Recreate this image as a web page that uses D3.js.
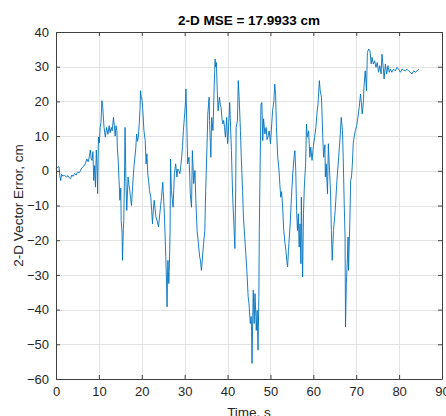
<!DOCTYPE html>
<html>
<head>
<meta charset="utf-8">
<script src="https://d3js.org/d3.v7.min.js"></script>
<style>
  body { margin: 0; background: #fff; }
  svg { display: block; font-family: "Liberation Sans", Arial, sans-serif; }
</style>
</head>
<body>
<div id="chart"></div>
<script>
// time stamps (s)
var timeS = [
  0, 0.3, 0.7, 0.9, 1.1, 1.3, 1.6, 2.0, 2.4, 2.8, 3.1, 3.4, 3.7, 4.0, 4.3, 4.7, 5.0, 5.4, 5.7, 6.0,
  6.4, 6.8, 7.2, 7.5, 7.8, 8.0, 8.2, 8.4, 8.6, 8.8, 9.0, 9.2, 9.4, 9.6, 9.7, 9.9, 10.1, 10.3, 10.5, 10.7,
  10.9, 11.2, 11.5, 11.8, 12.1, 12.4, 12.6, 12.9, 13.1, 13.4, 13.6, 13.8, 14.0, 14.2, 14.3, 14.5, 14.7, 14.9, 15.1, 15.2,
  15.4, 15.5, 15.7, 15.8, 16.0, 16.1, 16.3, 16.5, 16.8, 17.0, 17.2, 17.4, 17.6, 17.8, 18.0, 18.2, 18.4, 18.6, 18.8, 19.0,
  19.2, 19.4, 19.6, 19.7, 19.9, 20.0, 20.2, 20.5, 20.8, 21.0, 21.2, 21.4, 21.6, 21.8, 22.1, 22.3, 22.5, 22.7, 22.9, 23.1,
  23.3, 23.6, 23.9, 24.2, 24.4, 24.6, 24.9, 25.0, 25.2, 25.4, 25.6, 25.8, 25.9, 26.0, 26.1, 26.2, 26.3, 26.5, 26.6, 26.7,
  26.9, 27.1, 27.3, 27.6, 27.9, 28.2, 28.4, 28.6, 28.9, 29.1, 29.3, 29.5, 29.7, 30.0, 30.2, 30.3, 30.5, 30.7, 31.0, 31.2,
  31.3, 31.6, 31.8, 32.0, 32.1, 32.4, 32.6, 32.9, 33.2, 33.5, 33.7, 33.9, 34.1, 34.4, 34.7, 34.9, 35.2, 35.4, 35.7, 35.8,
  36.1, 36.3, 36.6, 36.9, 37.1, 37.2, 37.4, 37.6, 37.8, 38.1, 38.3, 38.5, 38.7, 38.9, 39.1, 39.3, 39.5, 39.8, 40.0, 40.1,
  40.5, 40.9, 41.2, 41.5, 41.7, 41.9, 42.0, 42.3, 42.5, 42.7, 43.0, 43.2, 43.5, 43.7, 44.1, 44.5, 44.8, 45.0, 45.3, 45.5,
  45.6, 45.7, 45.9, 46.0, 46.2, 46.4, 46.6, 46.7, 46.9, 47.1, 47.3, 47.4, 47.6, 47.8, 48.0, 48.2, 48.4, 48.7, 49.0, 49.2,
  49.4, 49.7, 50.0, 50.2, 50.5, 50.8, 51.0, 51.2, 51.4, 51.7, 52.0, 52.2, 52.4, 52.6, 52.8, 53.1, 53.4, 53.6, 53.8, 54.0,
  54.2, 54.3, 54.6, 54.9, 55.2, 55.5, 55.7, 55.9, 56.1, 56.3, 56.5, 56.7, 56.9, 57.1, 57.2, 57.5, 57.7, 57.9, 58.2, 58.4,
  58.6, 58.9, 59.2, 59.4, 59.7, 60.0, 60.3, 60.6, 60.9, 61.1, 61.4, 61.6, 61.9, 62.2, 62.4, 62.7, 62.8, 63.0, 63.3, 63.5,
  63.7, 64.0, 64.2, 64.4, 64.7, 65.1, 65.5, 65.9, 66.3, 66.5, 66.8, 67.0, 67.2, 67.4, 67.5, 67.7, 67.9, 68.1, 68.2, 68.5,
  68.7, 68.9, 69.1, 69.3, 69.5, 69.8, 70.1, 70.4, 70.7, 71.0, 71.2, 71.4, 71.7, 71.8, 72.1, 72.4, 72.6, 72.9, 73.2, 73.5,
  73.7, 74.0, 74.3, 74.6, 74.9, 75.2, 75.5, 75.8, 76.0, 76.3, 76.5, 76.8, 77.1, 77.4, 77.7, 78.0, 78.3, 78.7, 79.1, 79.5,
  79.9, 80.3, 80.7, 81.1, 81.5, 81.8, 82.2, 82.6, 83.0, 83.4, 83.8, 84.2, 84.6
];

// 2-D vector error (cm) at each time stamp
var errorCm = [
  0.6, 1.0, 1.2, -1.5, -2.8, -1.0, -1.5, -1.3, -1.8, -1.4, -2.0, -2.3, -1.2, -1.6, -0.8, -1.2, -0.4, -0.6, 0.0, 0.8,
  1.2, 2.0, 3.4, 2.6, 4.2, 6.0, 3.5, 3.0, 5.5, -2.8, 1.5, -4.7, 6.0, 0.5, -6.6, 9.7, 8.0, 12.5, 14.0, 20.2,
  18.3, 12.5, 9.7, 12.5, 10.5, 13.0, 11.0, 12.5, 11.5, 15.4, 13.0, 10.0, 13.0, 11.6, 6.8, 3.0, -2.8, -8.5, -5.0, -14.3,
  -18.0, -25.8, -17.0, -14.3, 1.0, 12.5, -3.0, -11.4, -1.8, -4.0, -5.7, -8.0, -10.0, -6.0, -1.8, 1.5, 3.9, 6.5, 10.6, 8.5,
  9.7, 13.5, 18.0, 23.1, 21.0, 21.0, 18.3, 11.6, 8.7, 2.0, 4.9, -0.9, -3.0, -5.7, -7.6, -11.4, -15.3, -11.0, -8.5, -11.0,
  -13.3, -14.5, -16.2, -12.4, -10.0, -7.6, -3.3, -6.0, -10.5, -17.2, -24.8, -33.5, -39.2, -30.0, -25.8, -29.0, -32.5, -24.0, -17.2, 3.4,
  -5.7, -8.0, -10.5, -0.9, 2.0, -1.8, 0.5, 0.1, -0.8, 1.5, 3.9, 7.0, 11.6, 16.4, 20.0, 23.6, 13.5, 2.0, 3.9, -2.0,
  -6.6, -10.5, 5.8, 0.0, -3.7, 0.1, -8.5, -17.2, -21.0, -24.8, -26.0, -28.7, -25.8, -21.0, -17.2, -5.7, 6.8, 16.4, 21.2, 14.5,
  3.9, 15.4, 11.6, 25.0, 32.2, 30.0, 31.2, 23.1, 17.3, 21.2, 19.0, 18.3, 15.0, 13.5, 14.5, 12.5, 9.7, 15.4, 7.8, 8.7,
  19.7, 5.8, -7.6, -16.2, -22.4, -5.0, 12.5, 14.5, 26.0, 21.2, 11.6, 3.9, -5.7, -13.3, -21.0, -28.7, -36.3, -38.3, -44.0, -42.0,
  -46.0, -55.5, -40.0, -34.4, -44.0, -35.4, -42.0, -46.0, -40.2, -51.7, -36.3, -17.2, 2.0, 19.3, 19.7, 8.7, 15.0, 10.6, 12.5, 9.0,
  9.7, 11.5, 7.8, 11.5, 17.3, 20.2, 25.0, 22.1, 12.5, 3.9, 0.1, -4.0, -7.6, -6.0, -9.5, -17.2, -21.0, -22.9, -25.8, -27.7,
  -23.0, -21.0, -15.3, -7.6, -0.9, 3.9, 5.8, 0.1, -11.4, -17.2, -12.4, -22.0, -15.3, -26.8, -7.6, -30.6, -12.4, -4.7, 2.0, 13.5,
  9.7, 11.5, 3.9, 6.8, 3.0, 7.0, 9.7, 12.5, 17.3, 19.3, 26.0, 23.1, 21.2, 9.7, 3.9, 7.5, -1.8, 2.0, -6.6, 7.8,
  2.0, -5.7, -17.2, -25.8, -17.2, -11.4, -2.8, 3.9, 10.6, 15.4, 11.6, 2.0, -9.5, -19.1, -45.0, -32.5, -26.8, -19.1, -28.7, -15.3,
  -2.8, -1.8, 2.0, 7.8, 9.7, 11.6, 13.0, 15.4, 18.3, 22.1, 19.7, 16.4, 20.2, 24.1, 28.8, 23.1, 34.1, 35.1, 34.6, 30.8,
  32.7, 30.8, 31.7, 29.8, 31.2, 28.4, 30.3, 27.9, 33.6, 29.8, 26.5, 30.8, 27.9, 30.3, 28.4, 29.3, 28.4, 29.3, 28.8, 29.8,
  29.3, 28.4, 29.3, 29.0, 28.8, 29.3, 28.8, 28.4, 27.9, 28.8, 28.4, 28.8, 29.3
];

// tick values
var xTicks = [0, 10, 20, 30, 40, 50, 60, 70, 80, 90];
var yTicks = [-60, -50, -40, -30, -20, -10, 0, 10, 20, 30, 40];

var svgWidth = 446;
var svgHeight = 416;

var margins = {
    top: 32,
    bottom: 37,
    left: 56,
    right: 4
};

var width = svgWidth - margins.left - margins.right;
var height = svgHeight - margins.top - margins.bottom;

var svg = d3.select("#chart")
    .append("svg")
    .attr("width", svgWidth)
    .attr("height", svgHeight);

var group = svg.append("g")
    .attr("transform", `translate(${margins.left}, ${margins.top})`);

var xScale = d3.scaleLinear()
    .domain([0, 90])
    .range([0, width]);
var yScale = d3.scaleLinear()
    .domain([-60, 40])
    .range([height, 0]);

//grid lines
group.append("g")
    .selectAll("line")
    .data(xTicks.slice(1, -1))
    .enter()
    .append("line")
    .attr("x1", d => Math.round(xScale(d)) + 0.5)
    .attr("x2", d => Math.round(xScale(d)) + 0.5)
    .attr("y1", 0)
    .attr("y2", height)
    .attr("stroke", "#e3e3e3");
group.append("g")
    .selectAll("line")
    .data(yTicks.slice(1, -1))
    .enter()
    .append("line")
    .attr("x1", 0)
    .attr("x2", width)
    .attr("y1", d => Math.round(yScale(d)) + 0.5)
    .attr("y2", d => Math.round(yScale(d)) + 0.5)
    .attr("stroke", "#e3e3e3");

//the error trace
var points = timeS.map((t, i) => [t, errorCm[i]]);
var line = d3.line()
    .x(d => xScale(d[0]))
    .y(d => yScale(d[1]));
group.append("path")
    .datum(points)
    .attr("d", line)
    .attr("fill", "none")
    .attr("stroke", "#0072BD")
    .attr("stroke-width", 0.9)
    .attr("stroke-linejoin", "round");

//axes, ticks point inward like matlab
var xAxis = d3.axisBottom(xScale).tickValues(xTicks).tickSizeInner(-4).tickSizeOuter(0).tickPadding(8);
var yAxis = d3.axisLeft(yScale).tickValues(yTicks).tickSizeInner(-4).tickSizeOuter(0).tickPadding(7);
var xTop = d3.axisTop(xScale).tickValues(xTicks).tickSizeInner(-4).tickSizeOuter(0).tickFormat("");
var yRight = d3.axisRight(yScale).tickValues(yTicks).tickSizeInner(-4).tickSizeOuter(0).tickFormat("");

group.append("g")
    .attr("class", "axis")
    .attr("transform", `translate(0, ${height})`)
    .call(xAxis);
group.append("g")
    .attr("class", "axis")
    .call(yAxis);
group.append("g")
    .attr("class", "axis")
    .call(xTop);
group.append("g")
    .attr("class", "axis")
    .attr("transform", `translate(${width}, 0)`)
    .call(yRight);

group.selectAll(".axis path, .axis line")
    .attr("stroke", "#404040")
    .attr("stroke-width", 1);
group.selectAll(".axis text")
    .attr("fill", "#262626")
    .attr("font-size", "13px")
    .attr("font-family", "Liberation Sans, Arial, sans-serif");

//title
group.append("text")
    .attr("x", width / 2)
    .attr("y", -7)
    .attr("text-anchor", "middle")
    .attr("font-size", "13.5px")
    .attr("font-weight", "bold")
    .attr("fill", "#000")
    .text("2-D MSE = 17.9933 cm");

//x label
group.append("text")
    .attr("x", width / 2)
    .attr("y", height + 38)
    .attr("text-anchor", "middle")
    .attr("font-size", "13.5px")
    .attr("fill", "#262626")
    .text("Time, s");

//y label
group.append("text")
    .attr("transform", "rotate(-90)")
    .attr("x", -height / 2)
    .attr("y", -33)
    .attr("text-anchor", "middle")
    .attr("font-size", "13.5px")
    .attr("fill", "#262626")
    .text("2-D Vector Error, cm");
</script>
</body>
</html>
